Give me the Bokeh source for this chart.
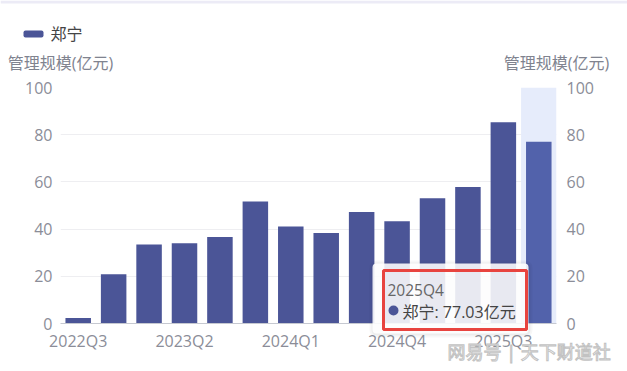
from bokeh.plotting import figure
from bokeh.layouts import column
from bokeh.models import (Range1d, LinearAxis, FixedTicker, Label, BoxAnnotation, ColumnDataSource)
from bokeh.embed import file_html
from bokeh.resources import INLINE

quarters = ["2022Q3", "2022Q4", "2023Q1", "2023Q2", "2023Q3", "2023Q4", "2024Q1",
            "2024Q2", "2024Q3", "2024Q4", "2025Q1", "2025Q2", "2025Q3", "2025Q4"]
values = [2.3, 20.9, 33.5, 34.0, 36.6, 51.7, 41.1, 38.3, 47.2, 43.3, 53.1, 57.8, 85.3, 77.03]
series_name = "郑宁"
unit = "亿元"
axis_title = "管理规模(亿元)"
y_ticks = [0, 20, 40, 60, 80, 100]
label_every = 3
watermark = "网易号 | 天下财道社"

FONT = "Open Sans, Noto Sans CJK SC"
BAR = "#4b5597"
BAR_HI = "#5262ab"
TICK_C = "#8b8d98"
W, H = 627, 371

n = len(quarters)
hi = n - 1
src = ColumnDataSource(dict(
    x=list(range(n)), top=values, q=quarters,
    color=[BAR_HI if i == hi else BAR for i in range(n)],
))

# ---------------- main chart ----------------
p = figure(width=W, height=H, output_backend="svg", toolbar_location=None,
           x_range=Range1d(-0.5, n - 0.5), y_range=Range1d(min(y_ticks), max(y_ticks)),
           min_border_left=60, min_border_right=71, min_border_top=87, min_border_bottom=48)
p.frame_align = False
p.outline_line_color = None
p.background_fill_color = "white"
p.border_fill_color = "white"

p.add_layout(BoxAnnotation(left=hi - 0.5, right=hi + 0.5, bottom=min(y_ticks), top=max(y_ticks),
                           fill_color="#e6ecfb", fill_alpha=1.0, line_color=None, level="underlay"))

r = p.vbar(x="x", top="top", width=0.72, source=src, fill_color="color", line_color=None)

p.xgrid.visible = False
p.ygrid.grid_line_color = "#eeeef1"
p.ygrid.ticker = FixedTicker(ticks=y_ticks)


def style_axis(ax, standoff):
    ax.major_tick_line_color = None
    ax.minor_tick_line_color = None
    ax.major_tick_out = 0
    ax.minor_tick_out = 0
    ax.major_tick_in = 0
    ax.minor_tick_in = 0
    ax.major_label_text_color = TICK_C
    ax.major_label_text_font = FONT
    ax.major_label_text_font_size = "16px"
    ax.major_label_standoff = standoff


xa = p.xaxis[0]
xa.ticker = FixedTicker(ticks=list(range(0, n, label_every)))
xa.major_label_overrides = {i: quarters[i] for i in range(0, n, label_every)}
xa.axis_line_color = "#c6c9d1"
style_axis(xa, 6)

ya = p.yaxis[0]
ya.ticker = FixedTicker(ticks=y_ticks)
ya.axis_line_color = None
style_axis(ya, 8)

ra = LinearAxis(ticker=FixedTicker(ticks=y_ticks))
ra.axis_line_color = None
style_axis(ra, 10)
p.add_layout(ra, "right")

# ---------------- overlay (pixel space, y down) ----------------
q = figure(width=W, height=H, output_backend="svg", toolbar_location=None,
           x_range=Range1d(0, W), y_range=Range1d(H, 0), min_border=0,
           x_axis_location=None, y_axis_location=None)
q.frame_align = False
q.outline_line_color = None
q.background_fill_alpha = 0
q.border_fill_alpha = 0
q.grid.visible = False
q.styles = {"margin-top": f"-{H}px"}


def box(l, rr, t, b, **kw):
    q.add_layout(BoxAnnotation(left=l, right=rr, top=t, bottom=b, **kw))


def text(x, y, s, size, color, align="left", **kw):
    q.add_layout(Label(x=x, y=y, text=s, text_align=align, text_baseline="middle",
                       text_font=FONT, text_font_size=size, text_color=color, **kw))


# top strip
box(0, W, 0, 3, fill_color="#ecebf6", fill_alpha=1, line_color=None)

# legend
box(23, 43, 30, 37, fill_color=BAR, fill_alpha=1, line_color=None, border_radius=2)
text(50, 33, series_name, "16px", "#444444")

# axis titles (centred on each y axis)
text(60, 62, axis_title, "16px", "#80838f", align="center")
text(556, 62, axis_title, "16px", "#80838f", align="center")

# tooltip
box(369, 532, 260, 337, fill_color="#000000", fill_alpha=0.03, line_color=None, border_radius=7)
box(371, 530, 262, 335, fill_color="#000000", fill_alpha=0.04, line_color=None, border_radius=5)
box(372, 528, 263, 333, fill_color="white", fill_alpha=0.88, line_color=None, border_radius=4)
box(383, 526, 270, 329, fill_alpha=0, line_color="#e8443f", line_alpha=1, line_width=3)
text(387, 289, quarters[hi], "15.5px", "#666666")
box(388, 398, 305, 315, fill_color=BAR, fill_alpha=1, line_color=None, border_radius=5)
text(402, 311, f"{series_name}: {values[hi]:.2f}{unit}", "16px", "#444444")

# watermark
text(447, 351, watermark, "18px", "#ffffff", text_outline_color="#c2c2c2")

layout = column(p, q, spacing=0)
open("out.html", "w").write(file_html(layout, INLINE))
